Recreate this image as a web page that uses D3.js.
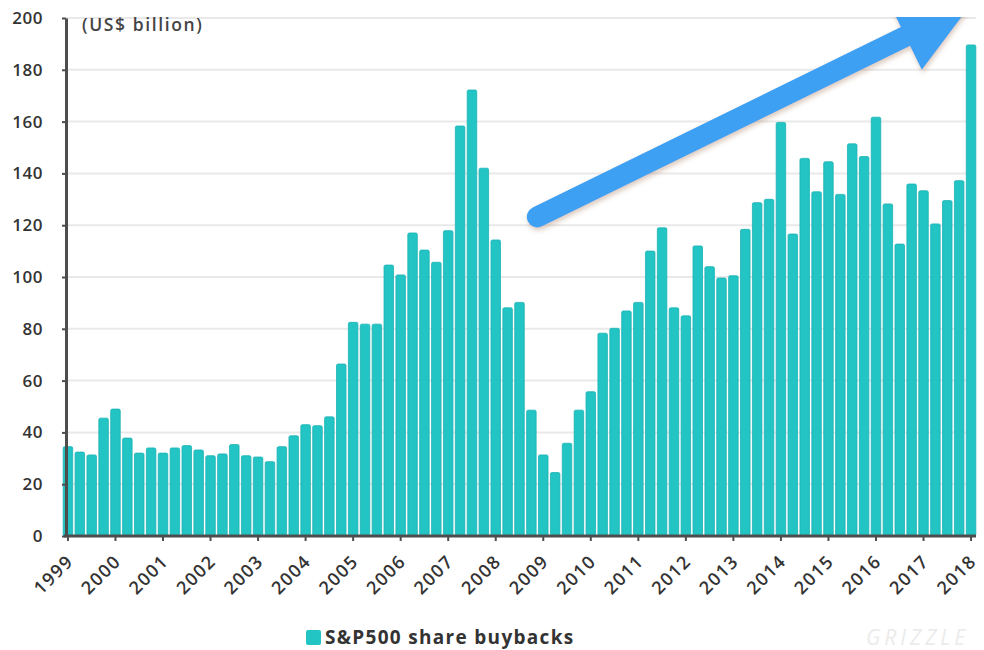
<!DOCTYPE html>
<html>
<head>
<meta charset="utf-8">
<script src="https://cdn.jsdelivr.net/npm/d3@7"></script>
<style>
  body { margin: 0; background: #fff; }
  text { font-family: "Open Sans", "DejaVu Sans", sans-serif; }
</style>
</head>
<body>
<div id="chart"></div>
<script>
// quarterly S&P500 buybacks, 1999 Q1 .. 2018 Q1 (US$ bn)
const buybacks = [
  34.5, 32.4, 31.3, 45.5,
  49.0, 37.8, 32.0, 34.0,
  32.0, 34.0, 34.9, 33.2,
  31.0, 31.7, 35.3, 31.0,
  30.5, 28.7, 34.5, 38.7,
  43.0, 42.6, 46.0, 66.4,
  82.5, 81.8, 81.8, 104.6,
  100.8, 117.0, 110.4, 105.7,
  117.9, 158.3, 172.2, 142.0,
  114.3, 88.1, 90.2, 48.6,
  31.3, 24.5, 35.8, 48.6,
  55.7, 78.3, 80.2, 86.9,
  90.2, 110.0, 119.0, 88.1,
  85.0, 112.0, 104.0, 99.6,
  100.5, 118.4, 128.7, 130.0,
  159.7, 116.6, 145.8, 132.9,
  144.5, 131.9, 151.4, 146.5,
  161.7, 128.2, 112.7, 135.9,
  133.3, 120.5, 129.5, 137.2,
  189.6
];
const yearLabels = ["1999", "2000", "2001", "2002", "2003", "2004", "2005", "2006", "2007", "2008",
                    "2009", "2010", "2011", "2012", "2013", "2014", "2015", "2016", "2017", "2018"];
const quarterNames = ["Q1", "Q2", "Q3", "Q4"];
const quarters = buybacks.map((d, i) => yearLabels[Math.floor(i / 4)] + " " + quarterNames[i % 4]);
const yTicks = [0, 20, 40, 60, 80, 100, 120, 140, 160, 180, 200];
const seriesName = "S&P500 share buybacks";
const unitLabel = "(US$ billion)";

const width = 984, height = 650;
const margin = {top: 18, right: 7, bottom: 114, left: 62};
const barColor = "#22c4c4";
const axisColor = "#4d4d4d";

const svg = d3.create("svg")
  .attr("width", width)
  .attr("height", height);

const x = d3.scaleBand()
  .domain(quarters)
  .range([margin.left, width - margin.right])
  .paddingInner(0.2)
  .paddingOuter(0.1);

const y = d3.scaleLinear()
  .domain([0, 200])
  .range([height - margin.bottom, margin.top]);

const cx = q => x(q) + x.bandwidth() / 2;
const plotLeft = 66;

// gridlines
svg.append("g")
  .selectAll("line")
  .data(yTicks.slice(1))
  .join("line")
    .attr("x1", plotLeft)
    .attr("x2", width - 8)
    .attr("y1", d => y(d))
    .attr("y2", d => y(d))
    .attr("stroke", "#e9e9e9")
    .attr("stroke-width", 2);

// bars
svg.append("g")
  .selectAll("rect")
  .data(buybacks)
  .join("rect")
    .attr("x", (d, i) => x(quarters[i]))
    .attr("y", d => y(d))
    .attr("width", x.bandwidth())
    .attr("height", d => y(0) - y(d))
    .attr("rx", 1.5)
    .attr("fill", barColor)
    .attr("stroke", "#1cb3b5")
    .attr("stroke-width", 0.8);

// x axis
const xAxis = svg.append("g")
  .attr("transform", `translate(0, ${y(0)})`)
  .call(d3.axisBottom(x)
    .tickValues(yearLabels.map(yr => yr + " Q1"))
    .tickFormat(d => d.slice(0, 4))
    .tickSizeInner(5)
    .tickSizeOuter(0));
xAxis.select(".domain").remove();
xAxis.append("line")
  .attr("x1", plotLeft - 2).attr("x2", width - 8)
  .attr("stroke", axisColor).attr("stroke-width", 3);
xAxis.selectAll(".tick line").attr("stroke", axisColor).attr("stroke-width", 2);
xAxis.selectAll(".tick text")
  .attr("fill", "#333")
  .attr("font-size", 18)
  .attr("font-weight", 600)
  .attr("letter-spacing", 1.4)
  .attr("text-anchor", "end")
  .attr("x", 0)
  .attr("y", 0)
  .attr("dy", "0.35em")
  .attr("transform", "translate(2, 22) rotate(-45)");

// y axis
const yAxis = svg.append("g")
  .attr("transform", `translate(${plotLeft}, 0)`)
  .call(d3.axisLeft(y).tickValues(yTicks).tickSizeInner(4).tickSizeOuter(0).tickPadding(19));
yAxis.select(".domain").attr("stroke", axisColor).attr("stroke-width", 3);
yAxis.selectAll(".tick line").attr("stroke", axisColor).attr("stroke-width", 2);
yAxis.selectAll(".tick text")
  .attr("fill", "#333")
  .attr("font-size", 17)
  .attr("font-weight", 600)
  .attr("letter-spacing", 0.5);

svg.append("text")
  .attr("x", 82)
  .attr("y", 31)
  .attr("fill", "#444")
  .attr("font-size", 17.5)
  .attr("font-weight", 600)
  .attr("letter-spacing", 1.6)
  .text(unitLabel);

// annotation arrow, drawn in data space
const xi = d3.scaleLinear().domain([0, quarters.length - 1]).range([cx(quarters[0]), cx(quarters[quarters.length - 1])]);
const arrowFrom = {q: 39.5, v: 123.2};
const arrowTo = {q: 76.0, v: 205.3};
const p0 = [xi(arrowFrom.q), y(arrowFrom.v)];
const p1 = [xi(arrowTo.q), y(arrowTo.v)];
const ang = Math.atan2(p1[1] - p0[1], p1[0] - p0[0]);
const ux = Math.cos(ang), uy = Math.sin(ang);
const headLen = 73, headHalf = 37;
const base = [p1[0] - ux * headLen, p1[1] - uy * headLen];

const defs = svg.append("defs");
defs.append("clipPath").attr("id", "arrowClip")
  .append("rect").attr("x", 0).attr("y", y(200) - 1).attr("width", width).attr("height", height);
const shadow = defs.append("filter").attr("id", "arrowShadow")
  .attr("x", "-10%").attr("y", "-10%").attr("width", "130%").attr("height", "140%");
shadow.append("feDropShadow")
  .attr("dx", 1).attr("dy", 3).attr("stdDeviation", 2.5)
  .attr("flood-color", "#b08a70").attr("flood-opacity", 0.45);

const arrow = svg.append("g")
  .attr("clip-path", "url(#arrowClip)")
  .append("g")
  .attr("filter", "url(#arrowShadow)");
arrow.append("line")
  .attr("x1", p0[0]).attr("y1", p0[1])
  .attr("x2", base[0] + ux * 4).attr("y2", base[1] + uy * 4)
  .attr("stroke", "#3ea0f2")
  .attr("stroke-width", 21)
  .attr("stroke-linecap", "round");
arrow.append("path")
  .attr("d", d3.line()([
    [base[0] + uy * headHalf, base[1] - ux * headHalf],
    p1,
    [base[0] - uy * headHalf, base[1] + ux * headHalf]
  ]) + "Z")
  .attr("fill", "#3ea0f2");

// legend
const legend = svg.append("g").attr("transform", "translate(306, 630)");
legend.append("rect")
  .attr("width", 15).attr("height", 15).attr("rx", 2)
  .attr("fill", barColor);
legend.append("text")
  .attr("x", 19)
  .attr("y", 14)
  .attr("fill", "#333")
  .attr("font-size", 19)
  .attr("font-weight", 700)
  .attr("letter-spacing", 1.3)
  .text(seriesName);

// faint watermark
svg.append("text")
  .attr("x", 866)
  .attr("y", 645)
  .attr("fill", "#ebebeb")
  .attr("font-size", 21)
  .attr("font-style", "italic")
  .attr("letter-spacing", 4)
  .text("GRIZZLE");

document.getElementById("chart").appendChild(svg.node());
</script>
</body>
</html>
